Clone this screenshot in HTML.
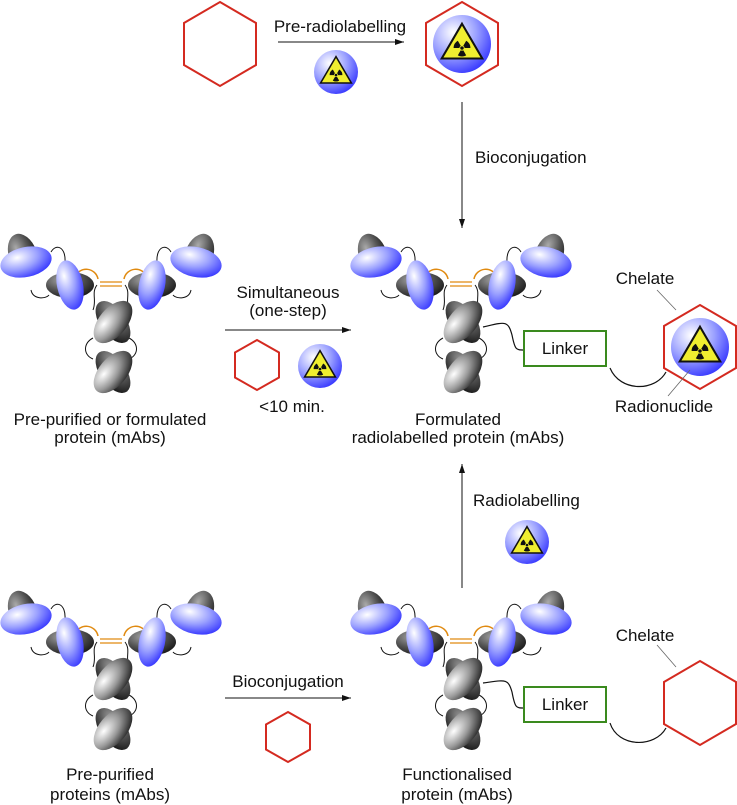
<!DOCTYPE html>
<html><head><style>
body{margin:0;background:#fff}
svg{display:block}
text{font-family:"Liberation Sans",sans-serif;font-size:17px;fill:#111}
</style></head><body>
<svg width="737" height="805" viewBox="0 0 737 805" xmlns="http://www.w3.org/2000/svg">
<defs>
<radialGradient id="gb" cx="0.35" cy="0.3" r="0.8">
<stop offset="0" stop-color="#fff"/><stop offset="0.5" stop-color="#9aa0ff"/><stop offset="1" stop-color="#2a2aff"/></radialGradient>
<radialGradient id="gg" cx="0.35" cy="0.3" r="0.8">
<stop offset="0" stop-color="#fff"/><stop offset="0.5" stop-color="#999"/><stop offset="1" stop-color="#1a1a1a"/></radialGradient>
<radialGradient id="gd" cx="0.35" cy="0.3" r="0.8">
<stop offset="0" stop-color="#aaa"/><stop offset="0.5" stop-color="#555"/><stop offset="1" stop-color="#111"/></radialGradient>
<g id="rad">
<circle r="1" fill="url(#gb)"/>
<polygon points="0,-0.7 0.7,0.5 -0.7,0.5" fill="#f0ee30" stroke="#111" stroke-width="0.07"/>
<circle cx="0" cy="0.14" r="0.07" fill="#111"/>
<path d="M0,0.14 L-0.29,0.14 A0.29,0.29 0 0 1 -0.145,-0.111 Z M0,0.14 L0.145,-0.111 A0.29,0.29 0 0 1 0.29,0.14 Z M0,0.14 L0.145,0.391 A0.29,0.29 0 0 1 -0.145,0.391 Z" fill="#111"/>
<circle cx="0" cy="0.14" r="0.09" fill="#f0ee30"/>
<circle cx="0" cy="0.14" r="0.06" fill="#111"/>
</g>
<g id="ab">
<path d="M-60,17 C-55,8 -45,12 -46,27 M-80,55 C-78,65 -65,64 -62,60" fill="none" stroke="#111" stroke-width="1"/>
<path d="M60,17 C55,8 45,12 46,27 M80,55 C78,65 65,64 62,60" fill="none" stroke="#111" stroke-width="1"/>
<path d="M-14,50 C-20,58 -14,65 -18,75 M14,50 C20,58 14,65 18,75 M-18,103 C-28,108 -28,120 -18,124 M18,103 C28,108 28,120 18,124" fill="none" stroke="#111" stroke-width="1"/>
<path d="M-36,42 A12,12 0 0 1 -13,44 M36,42 A12,12 0 0 0 13,44" fill="none" stroke="#e08a10" stroke-width="1.5"/>
<path d="M-11,47 H11 M-11,51 H11" stroke="#e08a10" stroke-width="1.3"/>
<ellipse cx="-88" cy="20" rx="14" ry="22" transform="rotate(-20 -88 20)" fill="url(#gd)"/>
<ellipse cx="88" cy="20" rx="14" ry="22" transform="rotate(20 88 20)" fill="url(#gd)"/>
<ellipse cx="-41" cy="50" rx="24" ry="13" fill="url(#gd)"/>
<ellipse cx="41" cy="50" rx="24" ry="13" fill="url(#gd)"/>
<ellipse cx="2" cy="87" rx="24" ry="13" transform="rotate(55 2 87)" fill="url(#gd)"/>
<ellipse cx="2" cy="87" rx="25" ry="14" transform="rotate(-50 2 87)" fill="url(#gg)"/>
<ellipse cx="2" cy="137" rx="24" ry="13" transform="rotate(55 2 137)" fill="url(#gd)"/>
<ellipse cx="2" cy="137" rx="25" ry="14" transform="rotate(-50 2 137)" fill="url(#gg)"/>
<ellipse cx="-85" cy="27" rx="26" ry="15" transform="rotate(-12 -85 27)" fill="url(#gb)"/>
<ellipse cx="85" cy="27" rx="26" ry="15" transform="rotate(12 85 27)" fill="url(#gb)"/>
<ellipse cx="-41" cy="50" rx="13" ry="25" transform="rotate(-12 -41 50)" fill="url(#gb)"/>
<ellipse cx="41" cy="50" rx="13" ry="25" transform="rotate(12 41 50)" fill="url(#gb)"/>
</g>
<marker id="ar" markerWidth="10" markerHeight="8" refX="9" refY="3" orient="auto" markerUnits="userSpaceOnUse"><path d="M0,0 L9,3 L0,6 Z" fill="#111"/></marker>
</defs>

<polygon points="220,2 256,23 256,65 220,86 184,65 184,23" fill="none" stroke="#d42a20" stroke-width="2"/>
<line x1="278" y1="42" x2="404" y2="42" stroke="#111" marker-end="url(#ar)"/>
<text x="340" y="32" text-anchor="middle">Pre-radiolabelling</text>
<use href="#rad" transform="translate(336,72) scale(22)"/>
<polygon points="462,2 498,23 498,65 462,86 426,65 426,23" fill="none" stroke="#d42a20" stroke-width="2"/>
<use href="#rad" transform="translate(462,44) scale(29)"/>
<line x1="462" y1="102" x2="462" y2="228" stroke="#111" marker-end="url(#ar)"/>
<text x="475" y="163">Bioconjugation</text>

<use href="#ab" transform="translate(111,235)"/>
<text x="110" y="425" text-anchor="middle">Pre-purified or formulated</text>
<text x="110" y="443" text-anchor="middle">protein (mAbs)</text>
<text x="288" y="298" text-anchor="middle">Simultaneous</text>
<text x="288" y="316" text-anchor="middle">(one-step)</text>
<line x1="225" y1="330" x2="351" y2="330" stroke="#111" marker-end="url(#ar)"/>
<polygon points="257,340 279,352.5 279,377.5 257,390 235,377.5 235,352.5" fill="none" stroke="#d42a20" stroke-width="2"/>
<use href="#rad" transform="translate(320,366) scale(22)"/>
<text x="292" y="412" text-anchor="middle">&lt;10 min.</text>

<use href="#ab" transform="translate(461,235)"/>
<path d="M483,327 C505,322 508,320 512,335 C515,350 516,350 524,350" fill="none" stroke="#111" stroke-width="1.2"/>
<rect x="524" y="331" width="82" height="35" fill="#fff" stroke="#3a8a1e" stroke-width="2"/>
<text x="565" y="354" text-anchor="middle">Linker</text>
<path d="M610,368 C620,392 655,392 666,372" fill="none" stroke="#111" stroke-width="1.2"/>
<polygon points="700,305 736,326 736,368 700,389 664,368 664,326" fill="none" stroke="#d42a20" stroke-width="2"/>
<use href="#rad" transform="translate(700,347) scale(29)"/>
<line x1="657" y1="290" x2="676" y2="310" stroke="#666" stroke-width="0.8"/>
<text x="645" y="284" text-anchor="middle">Chelate</text>
<line x1="668" y1="396" x2="690" y2="370" stroke="#666" stroke-width="0.8"/>
<text x="664" y="412" text-anchor="middle">Radionuclide</text>
<text x="458" y="425" text-anchor="middle">Formulated</text>
<text x="458" y="443" text-anchor="middle">radiolabelled protein (mAbs)</text>

<line x1="462" y1="588" x2="462" y2="464" stroke="#111" marker-end="url(#ar)"/>
<text x="473" y="506">Radiolabelling</text>
<use href="#rad" transform="translate(527,542) scale(22)"/>

<use href="#ab" transform="translate(111,592)"/>
<text x="110" y="780" text-anchor="middle">Pre-purified</text>
<text x="110" y="800" text-anchor="middle">proteins (mAbs)</text>
<text x="288" y="687" text-anchor="middle">Bioconjugation</text>
<line x1="225" y1="698" x2="351" y2="698" stroke="#111" marker-end="url(#ar)"/>
<polygon points="288,712 310,724.5 310,749.5 288,762 266,749.5 266,724.5" fill="none" stroke="#d42a20" stroke-width="2"/>

<use href="#ab" transform="translate(461,592)"/>
<path d="M483,683 C505,680 508,678 512,692 C515,708 516,708 524,708" fill="none" stroke="#111" stroke-width="1.2"/>
<rect x="524" y="687" width="82" height="35" fill="#fff" stroke="#3a8a1e" stroke-width="2"/>
<text x="565" y="710" text-anchor="middle">Linker</text>
<path d="M610,723 C618,748 655,748 666,728" fill="none" stroke="#111" stroke-width="1.2"/>
<polygon points="700,661 736,682 736,724 700,745 664,724 664,682" fill="none" stroke="#d42a20" stroke-width="2"/>
<line x1="657" y1="645" x2="676" y2="667" stroke="#666" stroke-width="0.8"/>
<text x="645" y="641" text-anchor="middle">Chelate</text>
<text x="457" y="780" text-anchor="middle">Functionalised</text>
<text x="457" y="800" text-anchor="middle">protein (mAbs)</text>
</svg>
</body></html>
